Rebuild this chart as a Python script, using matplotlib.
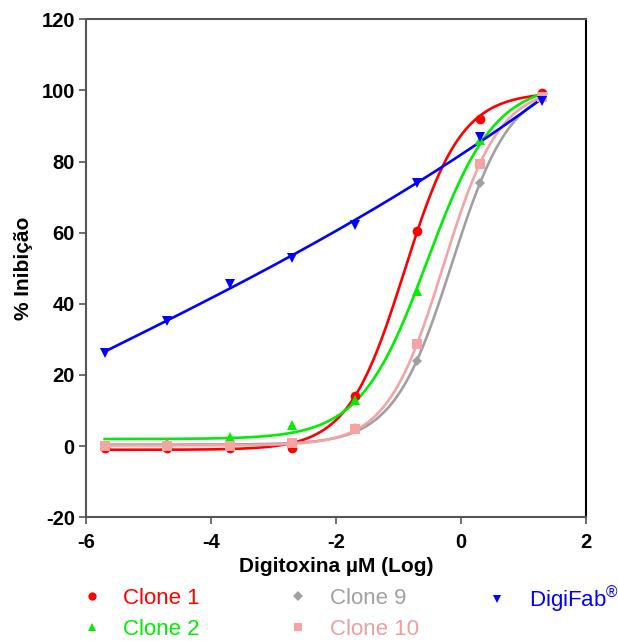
import numpy as np
import matplotlib
matplotlib.use("Agg")
import matplotlib.pyplot as plt
from matplotlib.lines import Line2D

plt.rcParams['font.family'] = ['Liberation Sans', 'DejaVu Sans']
plt.rcParams['mathtext.fontset'] = 'custom'
plt.rcParams['mathtext.rm'] = 'Liberation Sans'
plt.rcParams['axes.unicode_minus'] = False

log_dose = [-5.7, -4.7, -3.7, -2.7, -1.7, -0.7, 0.3, 1.3]
clone1 = [-0.5, -0.5, -0.5, -0.6, 14.0, 60.5, 92.0, 99.3]
clone2 = [np.nan, np.nan, 2.5, 6.0, 13.0, 43.5, 86.0, 98.3]
clone9 = [0.0, 0.5, 0.0, 1.0, 5.0, 23.8, 73.9, 97.5]
clone10 = [0.0, 0.0, 0.0, 1.0, 4.8, 28.6, 79.4, 98.0]
digifab = [26.3, 35.3, 45.6, 53.0, 62.3, 74.0, 87.0, 97.0]
# fitted bottom plateau (None = free fit)
fit_bottoms = [None, 2.0, None, None, None]

series = [
    ("Clone 1", clone1, "#FF0000", "#FF0000", "o", 7),
    ("Clone 2", clone2, "#00EE00", "#00EE00", "^", 7),
    ("Clone 9", clone9, "#A0A0A0", "#A0A0A0", "D", 5.5),
    ("Clone 10", clone10, "#F4A4A4", "#E8A0A0", "s", 6.5),
    ("DigiFab$^{®}$", digifab, "#0000FF", "#0000FF", "v", 7),
]


def four_pl(p, x):
    b, t, c, h = p
    return b + (t - b) / (1.0 + 10 ** ((c - x) * h))


def fit_4pl(x, y, bottom=None):
    x = np.asarray(x, float)
    y = np.asarray(y, float)
    m = ~np.isnan(y)
    x, y = x[m], y[m]
    p = np.array([y.min() if bottom is None else bottom, y.max(),
                  x[np.argmin(np.abs(y - (y.min() + y.max()) / 2))], 1.0])
    free = [0, 1, 2, 3] if bottom is None else [1, 2, 3]
    lam = 1e-2

    def res(p):
        return four_pl(p, x) - y
    r = res(p)
    cost = r @ r
    for _ in range(500):
        J = np.zeros((len(x), len(free)))
        for j, k in enumerate(free):
            dp = np.zeros(4)
            dp[k] = 1e-6 * max(1.0, abs(p[k]))
            J[:, j] = (res(p + dp) - r) / dp[k]
        A = J.T @ J
        g = J.T @ r
        step = np.linalg.solve(A + lam * np.diag(np.diag(A) + 1e-9), -g)
        pn = p.copy()
        pn[free] += step
        rn = res(pn)
        cn = rn @ rn
        if cn < cost:
            p, r, cost = pn, rn, cn
            lam *= 0.3
            if np.linalg.norm(step) < 1e-10:
                break
        else:
            lam *= 10
    return p


fig = plt.figure(figsize=(6.18, 6.41), dpi=100)
ax = fig.add_axes([0.139, 0.193, 0.809, 0.777])

xs = np.linspace(min(log_dose), max(log_dose), 300)
handles = []
for (label, vals, col, tcol, mk, ms), fb in zip(series, fit_bottoms):
    if label.startswith("DigiFab"):
        coef = np.polyfit(log_dose, vals, 3)
        ys = np.polyval(coef, xs)
    else:
        p = fit_4pl(log_dose, vals, fb)
        ys = four_pl(p, xs)
    ax.plot(xs, ys, color=col, lw=1.9, zorder=3)
    ax.plot(log_dose, vals, linestyle="none", marker=mk, color=col, markersize=ms,
            markeredgewidth=0, zorder=4)
    handles.append(Line2D([], [], linestyle="none", marker=mk, color=col,
                          markersize=ms * 0.85, markeredgewidth=0, label=label))

ax.set_xlim(-6, 2)
ax.set_ylim(-20, 120)
ax.set_xticks([-6, -4, -2, 0, 2])
ax.set_yticks(np.arange(-20, 121, 20))
ax.tick_params(direction="out", length=5, width=1.2, color="#555555",
               labelsize=14.5)
ax.tick_params(axis="x", pad=6)
ax.tick_params(axis="y", pad=3)
for lab in ax.get_xticklabels() + ax.get_yticklabels():
    lab.set_fontweight("bold")
for s in ["left", "bottom", "top"]:
    ax.spines[s].set_color("#555555")
    ax.spines[s].set_linewidth(1.5)
ax.spines["right"].set_color("#000000")
ax.spines["right"].set_linewidth(1.5)

ax.set_xlabel("Digitoxina µM (Log)", fontsize=15, fontweight="bold", labelpad=4)
ax.set_ylabel("% Inibição", fontsize=15, fontweight="bold", labelpad=6)

# legend: three columns placed individually
columns = [[0, 1], [2, 3], [4]]
col_x = [0.0955, 0.429, 0.751]
col_top = [0.1136, 0.1136, 0.1195]
for idxs, cx, cy in zip(columns, col_x, col_top):
    leg = fig.legend(handles=[handles[i] for i in idxs], loc="upper left",
                     bbox_to_anchor=(cx, cy), ncol=1, frameon=False,
                     fontsize=16, handletextpad=0.8, handlelength=1.2,
                     labelspacing=0.45)
    for txt, i in zip(leg.get_texts(), idxs):
        txt.set_color(series[i][3])

fig.savefig("out.png", dpi=100)
